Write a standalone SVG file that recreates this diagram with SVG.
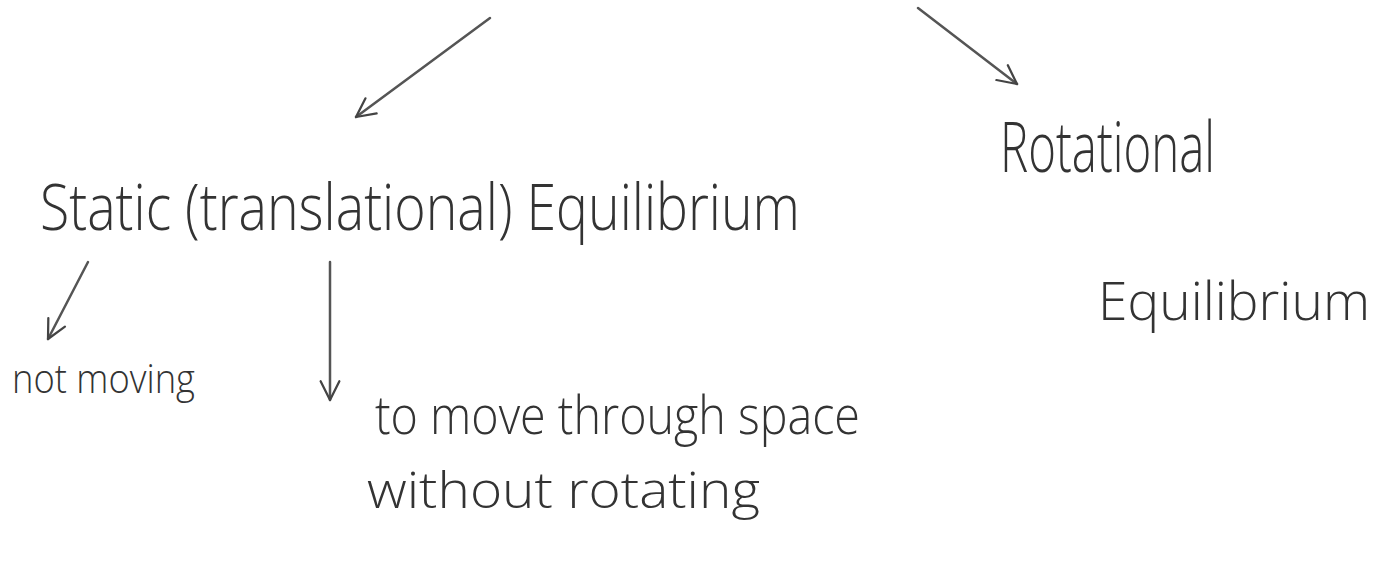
<svg xmlns="http://www.w3.org/2000/svg" width="1395" height="562" viewBox="0 0 1395 562">
<defs>
<marker id="ah" viewBox="0 0 12 12" refX="11" refY="6" markerWidth="9" markerHeight="9" markerUnits="strokeWidth" orient="auto">
<path d="M1,1 L11,6 L1,11" fill="none" stroke="#444" stroke-width="1.2" stroke-linecap="round" stroke-linejoin="round"/>
</marker>
<style>
.t{font-family:"Open Sans","Liberation Sans",sans-serif;font-weight:300;fill:#333}
.c{fill:none;stroke:#555;stroke-width:2.5;stroke-linecap:round;marker-end:url(#ah)}
</style>
</defs>
<rect width="1395" height="562" fill="#fff"/>
<g id="connectors">
<path class="c" d="M490,18 L356,117"/>
<path class="c" d="M918,8 L1017,84"/>
<path class="c" d="M88,262 L48,339"/>
<path class="c" d="M330,262 L330,400"/>
</g>
<g id="static">
<text class="t" x="40" y="230" font-size="64" textLength="760" lengthAdjust="spacingAndGlyphs">Static (translational) Equilibrium</text>
</g>
<g id="rotational">
<text class="t" x="1000" y="172" font-size="70" textLength="215" lengthAdjust="spacingAndGlyphs">Rotational</text>
<text class="t" x="1098" y="320" font-size="54" textLength="272" lengthAdjust="spacingAndGlyphs">Equilibrium</text>
</g>
<g id="notmoving">
<text class="t" x="12" y="393" font-size="40" textLength="183" lengthAdjust="spacingAndGlyphs">not moving</text>
</g>
<g id="move">
<text class="t" x="375" y="434" font-size="54" textLength="485" lengthAdjust="spacingAndGlyphs">to move through space</text>
<text class="t" x="367" y="508" font-size="50" textLength="393" lengthAdjust="spacingAndGlyphs">without rotating</text>
</g>
</svg>
